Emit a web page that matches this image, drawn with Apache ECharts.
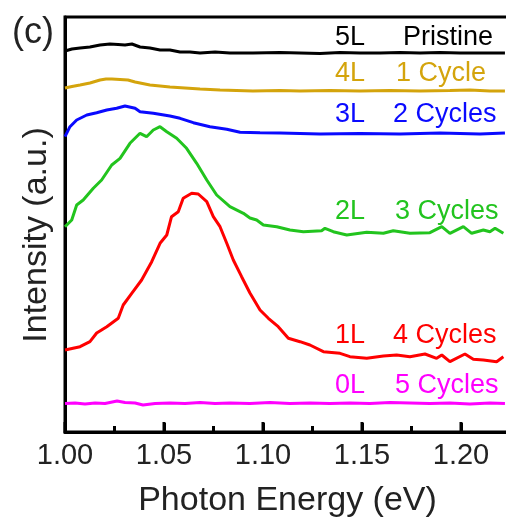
<!DOCTYPE html>
<html>
<head>
<meta charset="utf-8">
<script src="https://cdn.jsdelivr.net/npm/echarts@6/dist/echarts.min.js"></script>
<style>
html,body{margin:0;padding:0;background:#fff;}
#chart{width:506px;height:520px;}
</style>
</head>
<body>
<div id="chart"></div>
<script>
// x: Photon Energy (eV); y: Intensity (a.u., stacked with offsets)
const xMin = 1.00, xMax = 1.22475, xStep = 0.05;
const majorTicks = [1.00, 1.05, 1.10, 1.15, 1.20];
const minorTicks = [1.025, 1.075, 1.125, 1.175];

const e5L = [1.0000,1.0035,1.0076,1.0126,1.0177,1.0227,1.0268,1.0303,1.0338,1.0379,1.0429,1.0480,1.0530,1.0581,1.0631,1.0682,1.0758,1.0833,1.0949,1.1086,1.1187,1.1288,1.1389,1.1490,1.1591,1.1692,1.1793,1.1894,1.1995,1.2096,1.2222];
const i5L = [381,383,384,385,387,388,387.5,387,388,385,384,382,382,380,380,379,380,379,379,379.5,379,378.5,379.5,379,379,379.5,379,379.5,379,379,379];

const e4L = [1.0000,1.0035,1.0076,1.0126,1.0177,1.0207,1.0237,1.0278,1.0318,1.0354,1.0429,1.0480,1.0530,1.0606,1.0682,1.0783,1.0949,1.1086,1.1187,1.1338,1.1490,1.1641,1.1793,1.1944,1.2045,1.2146,1.2222];
const i4L = [344,345.5,347,349,352,353,353,352.5,352,350,347,346,345,344,343,342,341,341.5,341,341.5,341,341.5,341,341.5,342,341,341];

const e3L = [1.0000,1.0025,1.0059,1.0110,1.0160,1.0211,1.0261,1.0303,1.0354,1.0379,1.0446,1.0530,1.0581,1.0648,1.0732,1.0817,1.0884,1.0985,1.1086,1.1288,1.1490,1.1692,1.1894,1.2096,1.2222];
const i3L = [295.3,305.3,312,317,319.3,322,323.7,326,323.7,320.3,318.7,316,313.7,309.3,305.3,302.7,299.7,299.3,299,298,298.5,298,299,298,299];

const e2L = [1.0000,1.0034,1.0059,1.0092,1.0143,1.0185,1.0236,1.0278,1.0328,1.0379,1.0412,1.0446,1.0480,1.0514,1.0564,1.0614,1.0665,1.0716,1.0766,1.0833,1.0901,1.0934,1.0968,1.1002,1.1069,1.1136,1.1204,1.1296,1.1313,1.1355,1.1423,1.1524,1.1608,1.1658,1.1742,1.1843,1.1903,1.1944,1.2012,1.2054,1.2113,1.2146,1.2172,1.2214];
const i2L = [205.3,212,227,232,243.7,252,267,273.7,288.7,298.7,295.3,302,305.3,300.3,293.7,283.7,268.7,252,237,225.3,218.7,214,212,207,205.3,202,200.3,201.3,203.7,200.3,197,199.7,198.7,201.3,198.7,199.3,205.3,198.7,205.3,198.7,202,200.3,203.7,198.7];

const e1L = [1.0000,1.0076,1.0126,1.0160,1.0211,1.0269,1.0294,1.0337,1.0387,1.0438,1.0480,1.0514,1.0538,1.0572,1.0597,1.0640,1.0673,1.0716,1.0749,1.0783,1.0817,1.0850,1.0892,1.0934,1.0985,1.1027,1.1077,1.1128,1.1187,1.1237,1.1305,1.1389,1.1439,1.1524,1.1608,1.1675,1.1742,1.1818,1.1877,1.1903,1.1944,1.2020,1.2062,1.2113,1.2180,1.2214];
const i1L = [82,85.3,90.3,99,105.3,113.7,127,138.7,152,170.3,188.7,197,215.3,220.3,233.7,238.7,238,230.3,215.3,205.3,188.7,172,155.3,139,122,113.7,105.3,93.7,90.3,87,80.3,78.7,75.3,73.7,76,77,75.3,78,73.7,77,70.3,78,72.7,72,70.3,75.3];

const e0L = [1.0000,1.0051,1.0101,1.0152,1.0202,1.0263,1.0303,1.0354,1.0394,1.0455,1.0530,1.0606,1.0682,1.0758,1.0833,1.0934,1.1035,1.1136,1.1237,1.1338,1.1439,1.1540,1.1641,1.1742,1.1843,1.1944,1.2045,1.2146,1.2222];
const i0L = [28.5,29,28,29,28.5,31,29.5,29,27,28.5,29,28.5,29.5,28.5,29,28.5,29.5,28.5,29,28.5,29,28.5,29.5,29,28.5,29,28,29,28.5];

const layerNames = ['5L','4L','3L','2L','1L','0L'];
const cycleNames = ['Pristine','1 Cycle','2 Cycles','3 Cycles','4 Cycles','5 Cycles'];
const colors = ['#000000','#d4a40c','#0a0aff','#22c41e','#ff0000','#ff00ff'];
const energies = [e5L,e4L,e3L,e2L,e1L,e0L];
const intens = [i5L,i4L,i3L,i2L,i1L,i0L];

const FONT = 'Liberation Sans';
const chart = echarts.init(document.getElementById('chart'), null, {renderer:'canvas'});

const series = energies.map((ex, k) => ({
  name: layerNames[k] + ' ' + cycleNames[k],
  type: 'line',
  showSymbol: false,
  animation: false,
  lineStyle: {color: colors[k], width: 3},
  itemStyle: {color: colors[k]},
  data: ex.map((x, j) => [x, intens[k][j]])
}));

// inward x-axis tick marks, positioned through the axis scale
const tickData = majorTicks.map(v => [v, 0, 10]).concat(minorTicks.map(v => [v, 0, 6]));
series.push({
  type: 'custom',
  silent: true,
  animation: false,
  clip: false,
  zlevel: 2,
  z: 50,
  encode: {x: 0, y: 1},
  data: tickData,
  renderItem: function (params, api) {
    var p = api.coord([api.value(0), api.value(1)]);
    var len = api.value(2);
    return {type: 'rect', shape: {x: p[0] - 1.5, y: p[1] - len, width: 3, height: len},
            style: {fill: '#000'}};
  }
});

// label positions (pixels)
const labelY = [38, 74, 115, 212, 336, 386];
const cycleX = [403, 396, 393, 395, 393, 395];
const graphics = [];
labelY.forEach((y, k) => {
  graphics.push({type:'text', x:335, y: y, style:{text: layerNames[k], fontFamily: FONT, fontSize: 27, fill: colors[k], textVerticalAlign:'middle'}});
  graphics.push({type:'text', x:cycleX[k], y: y, style:{text: cycleNames[k], fontFamily: FONT, fontSize: 27, fill: colors[k], textVerticalAlign:'middle'}});
});
graphics.push({type:'text', x: 12, y: 33, style:{text:'(c)', fontFamily: FONT, fontSize: 36, fill:'#222', textVerticalAlign:'middle'}});
graphics.push({type:'text', x: 37, y: 235, rotation: Math.PI/2,
  style:{text:'Intensity (a.u.)', fontFamily: FONT, fontSize: 34, fill:'#222', textAlign:'center', textVerticalAlign:'middle'}});

chart.setOption({
  animation: false,
  grid: {left: 65, top: 17, width: 445, height: 415, show: true, borderColor: '#000', borderWidth: 3,
         outerBoundsMode: 'none'},
  xAxis: {
    type: 'value', min: xMin, max: xMax, interval: xStep,
    name: 'Photon Energy (eV)', nameLocation: 'middle', nameGap: 52,
    nameTextStyle: {fontFamily: FONT, fontSize: 34, color: '#222'},
    axisLine: {show: true, lineStyle: {color: '#000', width: 3}},
    axisTick: {show: true, inside: true, length: 9, lineStyle: {color: '#000', width: 3}},
    minorTick: {show: true, splitNumber: 2, length: 5, lineStyle: {color: '#000', width: 3}},
    splitLine: {show: false},
    axisLabel: {fontFamily: FONT, fontSize: 29, color: '#222', margin: 9,
      formatter: function (v) { return Number(v).toFixed(2); }}
  },
  yAxis: {
    type: 'value', min: 0, max: 415,
    axisLine: {show: true, lineStyle: {color: '#000', width: 3}},
    axisTick: {show: false}, axisLabel: {show: false}, splitLine: {show: false}
  },
  graphic: graphics,
  series: series
});
</script>
</body>
</html>
